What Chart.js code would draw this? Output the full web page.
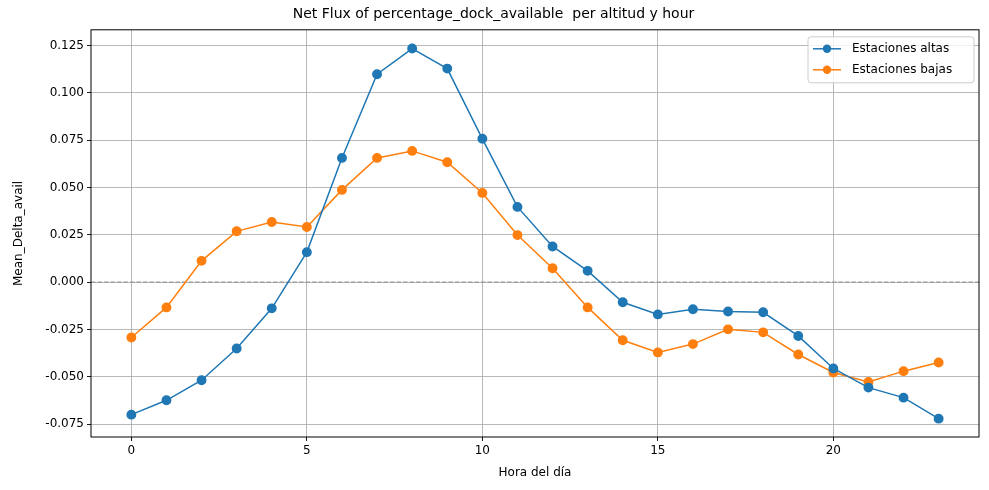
<!DOCTYPE html>
<html><head><meta charset="utf-8">
<script src="https://cdn.jsdelivr.net/npm/chart.js@4"></script>
<style>html,body{margin:0;background:#fff}#wrap{width:989px;height:490px}</style>
</head><body><div id="wrap"><canvas id="c"></canvas></div>
<script>
const hours = [0,1,2,3,4,5,6,7,8,9,10,11,12,13,14,15,16,17,18,19,20,21,22,23];
const altas = [-0.070,-0.0624,-0.0518,-0.035,-0.0138,0.0159,0.0657,0.1099,0.1235,0.1129,0.0758,0.0398,0.0189,0.006,-0.0106,-0.017,-0.0143,-0.0155,-0.0159,-0.0284,-0.0456,-0.0557,-0.061,-0.0721];
const bajas = [-0.0292,-0.0133,0.0113,0.0269,0.0318,0.0292,0.0488,0.0657,0.0694,0.0634,0.0472,0.0249,0.0074,-0.0133,-0.0307,-0.0371,-0.0327,-0.0249,-0.0265,-0.0382,-0.0477,-0.0527,-0.047,-0.0424];
const xTicks = [0,5,10,15,20];
const yTicks = [-0.075,-0.05,-0.025,0,0.025,0.05,0.075,0.1,0.125];
const seriesNames = ['Estaciones altas','Estaciones bajas'];
const colors = ['#1f77b4','#ff7f0e'];

Chart.defaults.font.family = 'DejaVu Sans';
Chart.defaults.color = '#000';

const extras = {
  id: 'extras',
  beforeDatasetsDraw(chart) {
    const {ctx, chartArea: a, scales: {y}} = chart;
    const py = y.getPixelForValue(0);
    ctx.save();
    ctx.strokeStyle = '#999'; ctx.lineWidth = 1.2; ctx.setLineDash([4.5, 2]);
    ctx.beginPath(); ctx.moveTo(a.left, py); ctx.lineTo(a.right, py); ctx.stroke();
    ctx.restore();
  },
  afterDraw(chart) {
    const {ctx, chartArea: a} = chart;
    ctx.save();
    ctx.strokeStyle = '#000'; ctx.lineWidth = 1;
    ctx.strokeRect(a.left, a.top, a.right - a.left, a.bottom - a.top);
    // legend
    const w = 166, h = 46, x0 = a.right - w - 5, y0 = a.top + 7;
    ctx.fillStyle = 'rgba(255,255,255,0.8)'; ctx.strokeStyle = '#ccc';
    ctx.beginPath(); ctx.roundRect(x0, y0, w, h, 3); ctx.fill(); ctx.stroke();
    ctx.font = '12px DejaVu Sans'; ctx.textBaseline = 'middle';
    seriesNames.forEach((n, i) => {
      const ly = y0 + 12 + i * 21;
      ctx.strokeStyle = colors[i]; ctx.lineWidth = 1.5;
      ctx.beginPath(); ctx.moveTo(x0 + 5, ly); ctx.lineTo(x0 + 33, ly); ctx.stroke();
      ctx.fillStyle = colors[i];
      ctx.beginPath(); ctx.arc(x0 + 19, ly, 4.2, 0, 2 * Math.PI); ctx.fill();
      ctx.fillStyle = '#000'; ctx.fillText(n, x0 + 44, ly);
    });
    ctx.restore();
  }
};

new Chart(document.getElementById('c'), {
  type: 'line',
  data: {
    datasets: [altas, bajas].map((vals, i) => ({
      label: seriesNames[i],
      data: hours.map((h, j) => ({x: h, y: vals[j]})),
      borderColor: colors[i], backgroundColor: colors[i],
      borderWidth: 1.5, pointRadius: 4.2, pointHoverRadius: 4.2, tension: 0
    }))
  },
  options: {
    responsive: true, maintainAspectRatio: false, animation: false,
    layout: {padding: {left: 8, right: 10, top: 4, bottom: 6}},
    plugins: {
      legend: {display: false}, tooltip: {enabled: false},
      title: {display: true, text: 'Net Flux of percentage_dock_available  per altitud y hour',
        font: {size: 14, weight: 'normal'}, padding: {top: 2, bottom: 7}}
    },
    scales: {
      x: {
        type: 'linear', min: -1.15, max: 24.15,
        afterBuildTicks: s => { s.ticks = xTicks.map(v => ({value: v})); },
        afterFit: s => { s.height = 47; },
        grid: {color: '#b0b0b0', lineWidth: 0.9, tickLength: 4, tickColor: '#000'},
        border: {display: false},
        ticks: {font: {size: 12}, padding: 3, maxRotation: 0},
        title: {display: true, text: 'Hora del día', font: {size: 12}, padding: {top: 2}}
      },
      y: {
        min: -0.0818, max: 0.1334,
        afterBuildTicks: s => { s.ticks = yTicks.map(v => ({value: v})); },
        afterFit: s => { s.width = 83; },
        grid: {color: '#b0b0b0', lineWidth: 0.9, tickLength: 4, tickColor: '#000'},
        border: {display: false},
        ticks: {font: {size: 12}, padding: 3, callback: v => v.toFixed(3)},
        title: {display: true, text: 'Mean_Delta_avail', font: {size: 12}, padding: {bottom: 2}}
      }
    }
  },
  plugins: [extras]
});
</script></body></html>
